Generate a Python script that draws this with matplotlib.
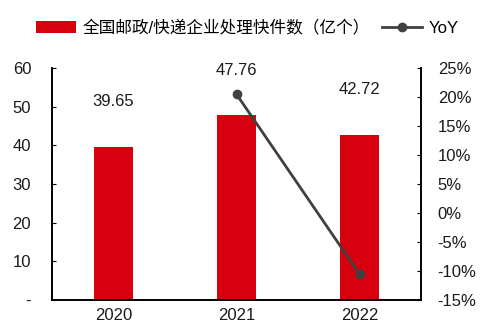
import matplotlib
matplotlib.use('Agg')
import matplotlib.pyplot as plt
from matplotlib.ticker import FuncFormatter

plt.rcParams['font.family'] = ['Liberation Sans', 'Noto Sans CJK SC', 'DejaVu Sans']

years = ['2020', '2021', '2022']
volume = [39.65, 47.76, 42.72]
yoy = [None, 20.45, -10.55]

red = '#D7000F'
dark = '#404040'

fig = plt.figure(figsize=(5, 3.31), dpi=100)
ax = fig.add_axes([0.104, 0.094, 0.738, 0.701])
ax2 = ax.twinx()

x = range(len(years))
bars = ax.bar(x, volume, width=0.31, color=red, label='全国邮政/快递企业处理快件数（亿个）', zorder=2)
for xi, v in zip(x, volume):
    ax.annotate(f'{v:.2f}', (xi, v), xytext=(0, 27), textcoords='offset points',
                ha='center', va='bottom', fontsize=12, color='#1a1a1a')

xs = [i for i, v in zip(x, yoy) if v is not None]
ys = [v for v in yoy if v is not None]
line, = ax2.plot(xs, ys, color=dark, lw=2, marker='o', ms=6, label='YoY', zorder=3)

ax.set_xlim(-0.5, 2.5)
ax.set_ylim(0, 60)
ax.set_yticks(range(0, 61, 10))
ax.yaxis.set_major_formatter(FuncFormatter(lambda v, p: '-' if v == 0 else f'{v:.0f}'))
ax2.set_ylim(-15, 25)
ax2.set_yticks(range(-15, 26, 5))
ax2.yaxis.set_major_formatter(FuncFormatter(lambda v, p: f'{v:.0f}%'))

ax.set_xticks(list(x))
ax.set_xticklabels(years)

for a in (ax, ax2):
    a.spines['top'].set_visible(False)
    for s in a.spines.values():
        s.set_linewidth(1.2)
        s.set_color('black')
ax.tick_params(axis='y', direction='in', length=3, labelsize=12, pad=15, colors='black', labelcolor='#1a1a1a')
ax2.tick_params(axis='y', direction='in', length=3, labelsize=12, pad=12, labelcolor='#1a1a1a')
ax.tick_params(axis='x', length=0, labelsize=12, pad=6, labelcolor='#1a1a1a')

fig.legend(handles=[bars, line], loc='upper center', bbox_to_anchor=(0.495, 0.985), ncol=2,
           frameon=False, fontsize=12, handlelength=2.4, columnspacing=0.7, handletextpad=0.4)

plt.savefig('out.png', dpi=100)
